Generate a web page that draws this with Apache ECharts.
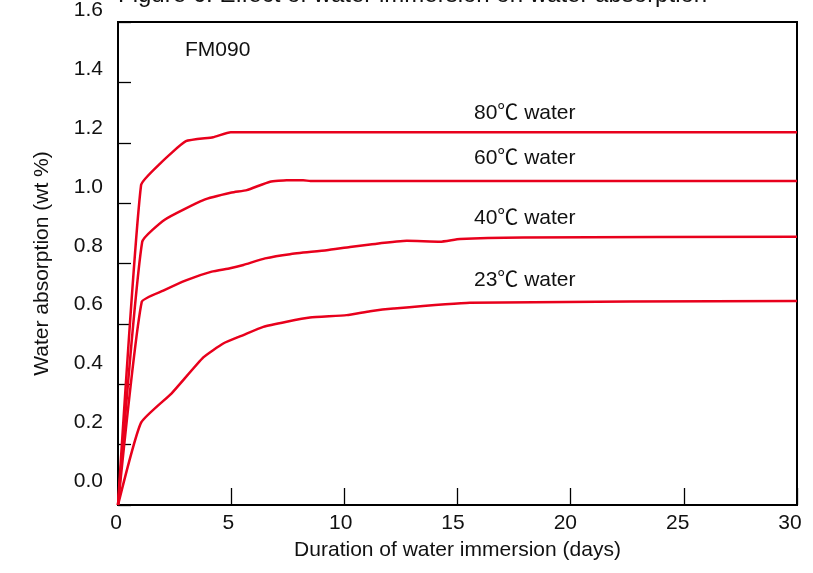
<!DOCTYPE html>
<html>
<head>
<meta charset="utf-8">
<script src="https://cdn.jsdelivr.net/npm/echarts@6/dist/echarts.min.js"></script>
<style>
  html, body { margin: 0; padding: 0; background: #fff; }
  #chart { width: 813px; height: 573px; }
</style>
</head>
<body>
<div id="chart"></div>
<script>
// Water absorption (wt %) vs. immersion time (days) for FM090
const days80 = [0, 1.02, 1.86, 3.0, 4.2, 4.98, 30];
const abs80  = [0, 1.06, 1.131, 1.205, 1.218, 1.235, 1.235];

const days60 = [0, 1.07, 2.08, 3.77, 5.02, 5.69, 6.72, 7.45, 8.18, 8.5, 30];
const abs60  = [0, 0.872, 0.946, 1.01, 1.035, 1.043, 1.071, 1.076, 1.076, 1.073, 1.073];

const days40 = [0, 1.05, 2.0, 3.03, 4.14, 4.95, 5.54, 6.5, 7.6, 9.22, 10.25, 11.14, 12.76, 14.23, 15.11, 17.9, 30];
const abs40  = [0, 0.673, 0.71, 0.745, 0.773, 0.784, 0.795, 0.817, 0.831, 0.844, 0.855, 0.863, 0.875, 0.872, 0.881, 0.886, 0.889];

const days23 = [0, 1.02, 2.37, 3.77, 4.65, 5.54, 6.42, 7.45, 8.48, 10.1, 11.14, 12.17, 15.55, 30];
const abs23  = [0, 0.273, 0.37, 0.489, 0.535, 0.563, 0.59, 0.607, 0.621, 0.629, 0.642, 0.651, 0.67, 0.676];

const seriesNames = ['80℃ water', '60℃ water', '40℃ water', '23℃ water'];
const xTicks = [0, 5, 10, 15, 20, 25, 30];
const yTicks = [0.0, 0.2, 0.4, 0.6, 0.8, 1.0, 1.2, 1.4, 1.6];

const FONT = '"Liberation Sans", Arial, "Noto Sans CJK JP", sans-serif';
const RED = '#e8001c';

function pairs(xs, ys) { return xs.map((x, i) => [x, ys[i]]); }

const chart = echarts.init(document.getElementById('chart'), null, { renderer: 'canvas' });

const lineSeries = [
  pairs(days80, abs80),
  pairs(days60, abs60),
  pairs(days40, abs40),
  pairs(days23, abs23)
].map((d, i) => ({
  name: seriesNames[i],
  type: 'line',
  xAxisIndex: 0,
  yAxisIndex: 0,
  data: d,
  showSymbol: false,
  smooth: 0.15,
  lineStyle: { color: RED, width: 2.5 },
  z: 3
}));

const labelPos = [
  { text: seriesNames[0], top: 103 },
  { text: seriesNames[1], top: 148 },
  { text: seriesNames[2], top: 208 },
  { text: seriesNames[3], top: 270 }
];

const tickText = { fontFamily: FONT, fontSize: 21, color: '#111' };

chart.setOption({
  animation: false,
  backgroundColor: '#fff',
  grid: [
    // plot frame
    {
      left: 118, right: 16, top: 22, bottom: 68,
      show: true, borderColor: '#000', borderWidth: 2, backgroundColor: 'transparent'
    },
    // tick-label scale (printed scale sits slightly off the frame)
    { left: 116, right: 23, top: 9, bottom: 92 }
  ],
  xAxis: [
    {
      type: 'value', gridIndex: 0,
      min: 0, max: 30, interval: 5,
      name: 'Duration of water immersion (days)',
      nameLocation: 'middle',
      nameGap: 35,
      nameTextStyle: tickText,
      axisLine: { show: true, lineStyle: { color: '#000', width: 2 } },
      axisTick: { show: true, inside: true, length: 17, lineStyle: { color: '#000', width: 1.3 } },
      axisLabel: { show: false },
      splitLine: { show: false }
    },
    {
      type: 'value', gridIndex: 1,
      min: 0, max: 30, interval: 5,
      offset: 24,
      axisLine: { show: false },
      axisTick: { show: false },
      axisLabel: Object.assign({
        margin: 8,
        formatter: v => xTicks.includes(v) ? String(v) : ''
      }, tickText),
      splitLine: { show: false }
    }
  ],
  yAxis: [
    {
      type: 'value', gridIndex: 0,
      min: 0, max: 1.6, interval: 0.2,
      name: 'Water absorption (wt %)',
      nameLocation: 'middle',
      nameGap: 65,
      nameTextStyle: tickText,
      axisLine: { show: true, lineStyle: { color: '#000', width: 2 } },
      axisTick: { show: true, inside: true, length: 13, lineStyle: { color: '#000', width: 1.3 } },
      axisLabel: { show: false },
      splitLine: { show: false }
    },
    {
      type: 'value', gridIndex: 1,
      min: 0, max: 1.6, interval: 0.2,
      axisLine: { show: false },
      axisTick: { show: false },
      axisLabel: Object.assign({
        margin: 13,
        formatter: v => {
          const t = yTicks.find(y => Math.abs(y - v) < 1e-6);
          return t === undefined ? '' : t.toFixed(1);
        }
      }, tickText),
      splitLine: { show: false }
    }
  ],
  series: lineSeries,
  graphic: [
    {
      type: 'text', left: 118, top: -17, z: 10,
      style: { text: 'Figure 6: Effect of water immersion on water absorption', font: '24px ' + FONT, fill: '#111' }
    },
    {
      type: 'text', left: 185, top: 40, z: 10,
      style: { text: 'FM090', font: '21px ' + FONT, fill: '#111' }
    }
  ].concat(labelPos.map(p => ({
    type: 'text', left: 474, top: p.top, z: 10,
    style: { text: p.text, font: '21px ' + FONT, fill: '#111' }
  })))
});
</script>
</body>
</html>
